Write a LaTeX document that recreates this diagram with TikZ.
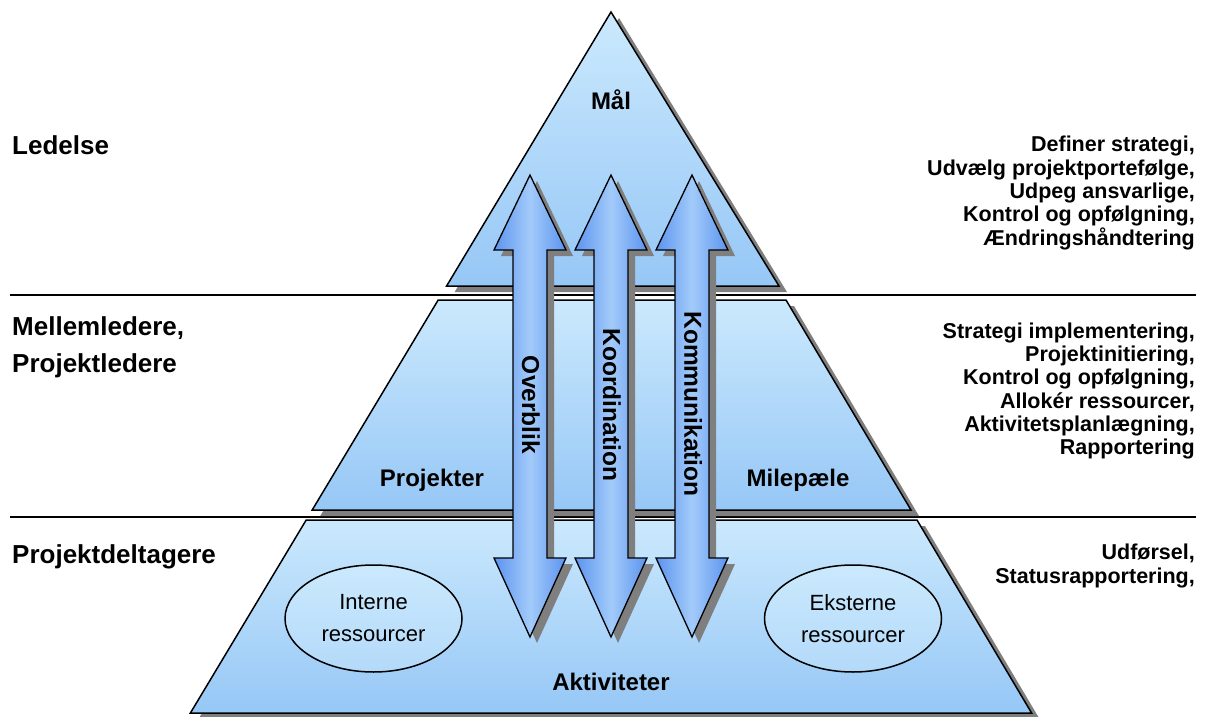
\documentclass[tikz,border=0pt]{standalone}
\usepackage{fontspec}
\setmainfont{Liberation Sans}
\usetikzlibrary{shapes.geometric}
\definecolor{lightb}{HTML}{CBE9FD}
\definecolor{darkb}{HTML}{96C7F6}
\definecolor{arrmid}{HTML}{A3CBFA}
\definecolor{arredge}{HTML}{5B93EF}
\definecolor{shade}{HTML}{7F7F7F}
\tikzset{
  sect/.style={draw=black, line width=1.5pt, top color=lightb, bottom color=darkb},
  shad/.style={fill=shade, draw=none},
  dblarrow/.style={draw=black, line width=1.3pt, left color=arredge, right color=arredge, middle color=arrmid},
  sepline/.style={line width=2.5pt, black},
  leftlbl/.style={font=\bfseries\fontsize{26}{37}\selectfont, anchor=west, align=left, inner sep=0pt},
  rightlbl/.style={font=\bfseries\fontsize{21.5}{23.3}\selectfont, anchor=east, align=right, inner sep=0pt},
  innerlbl/.style={font=\bfseries\fontsize{24}{28}\selectfont, inner sep=0pt},
  arrlbl/.style={font=\bfseries\fontsize{24.5}{28}\selectfont, rotate=-90, inner sep=0pt},
  resbox/.style={ellipse, draw=black, line width=1.5pt, minimum width=177pt, minimum height=107pt, top color=lightb, bottom color=lightb!55!darkb, align=center, font=\fontsize{22}{32}\selectfont, inner sep=0pt}
}
\begin{document}
\begin{tikzpicture}[x=1pt,y=-1pt]
\useasboundingbox (0,0) rectangle (1208,717);
% separator lines
\coordinate (l1a) at (10,295); \coordinate (l1b) at (1196,295);
\coordinate (l2a) at (10,517); \coordinate (l2b) at (1196,517);
\draw[sepline] (l1a) -- (l1b);
\draw[sepline] (l2a) -- (l2b);
% shadows of pyramid sections
\begin{scope}[shift={(8,6)}]
\fill[shad] (611,12) -- (779,286) -- (446.6,286) -- cycle;
\fill[shad] (438.2,300) -- (786,300) -- (911,510) -- (312.2,510) -- cycle;
\fill[shad] (306.2,520) -- (917,520) -- (1031.6,713) -- (190.4,713) -- cycle;
\end{scope}
% pyramid sections
\path[sect] (611,12) -- (779,286) -- (446.6,286) -- cycle;
\path[sect] (438.2,300) -- (786,300) -- (911,510) -- (312.2,510) -- cycle;
\path[sect] (306.2,520) -- (917,520) -- (1031.6,713) -- (190.4,713) -- cycle;
% arrow shadows
\foreach \cx in {530,611,692}{
  \fill[shad] ({\cx+7},181) -- ({\cx+43},256) -- ({\cx+24},256) -- ({\cx+24},564) -- ({\cx+43},564) -- ({\cx+7},643) -- ({\cx-29},564) -- ({\cx-10},564) -- ({\cx-10},256) -- ({\cx-29},256) -- cycle;
}
% arrows
\foreach \cx in {530,611,692}{
  \path[dblarrow] (\cx,175) -- ({\cx+36},250) -- ({\cx+17},250) -- ({\cx+17},558) -- ({\cx+36},558) -- (\cx,637) -- ({\cx-36},558) -- ({\cx-17},558) -- ({\cx-17},250) -- ({\cx-36},250) -- cycle;
}
% arrow labels
\node[arrlbl] (overblik) at (531,405) {Overblik};
\node[arrlbl] (koord) at (612,405) {Koordination};
\node[arrlbl] (komm) at (693,404) {Kommunikation};
% inner labels
\node[innerlbl] (maal) at (611,100) {Mål};
\node[innerlbl] (proj) at (432,480) {Projekter};
\node[innerlbl] (mile) at (798,480) {Milepæle};
\node[innerlbl] (akt) at (611,682) {Aktiviteter};
\node[resbox] (intern) at (373.5,618.5) {Interne\\ressourcer};
\node[resbox] (extern) at (853,618.5) {Eksterne\\ressourcer};
% left labels
\node[leftlbl] (ledelse) at (12,145) {Ledelse};
\node[leftlbl] (mellem) at (12,347) {Mellemledere,\\Projektledere};
\node[leftlbl] (deltag) at (12,557) {Projektdeltagere};
% right labels
\node[rightlbl] (rtop) at (1195,193) {Definer strategi,\\Udvælg projektportefølge,\\Udpeg ansvarlige,\\Kontrol og opfølgning,\\Ændringshåndtering};
\node[rightlbl] (rmid) at (1195,391) {Strategi implementering,\\Projektinitiering,\\Kontrol og opfølgning,\\Allokér ressourcer,\\Aktivitetsplanlægning,\\Rapportering};
\node[rightlbl] (rbot) at (1195,566) {Udførsel,\\Statusrapportering,};
\end{tikzpicture}
\end{document}
